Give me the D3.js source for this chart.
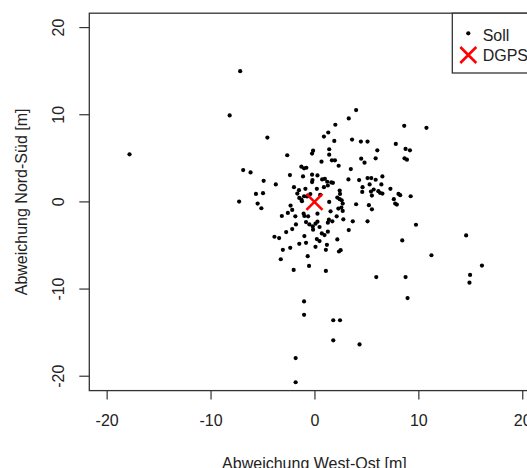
<!DOCTYPE html>
<html>
<head>
<meta charset="utf-8">
<script src="https://cdn.jsdelivr.net/npm/d3@7"></script>
<style>
  html, body { margin: 0; padding: 0; background: #fff; overflow: hidden; }
  text { font-family: "Liberation Sans", Arial, sans-serif; fill: #222; }
</style>
</head>
<body>
<div id="graph"></div>
<script>
// abweichungen der soll-punkte (west-ost, nord-sued) in metern
const SOLL_X = [-17.8, -7.15, -8.16, -4.53, 4.01, 3.30, 2.01, 1.33, 0.91, 1.91, 3.62, 4.47, 5.11, 8.64, 10.78,
  7.83, 8.77, 9.19, 6.05, 1.42, -0.13, -0.23, -2.62, 1.42, 5.89, 4.5, 4.82, 8.67, 8.9, 0.68,
  1.68, 1.97, 2.33, 3.5, -1.26, -1.0, -0.78, -6.86, -6.15, -4.89, -3.72, -2.36, -1.1, -0.23, 0.29,
  -0.19, -0.23, 0.74, 1.0, 1.23, 1.62, 3.27, 4.3, 5.11, 5.47, 5.89, 6.54, 4.63, 5.31, 6.44,
  5.7, 7.31, 4.6, 5.44, 6.15, 6.54, 6.31, 5.53, 8.09, 8.25, 9.26, 7.64, 7.77, 7.93, -1.97,
  -1.49, -0.87, 0.23, 0.91, 1.29, 1.78, 2.43, 2.46, 2.43, 2.62, 2.72, 2.59, 2.72, 2.3, 4.01,
  5.24, 5.53, -5.63, -4.95, -7.25, -5.47, -5.11, -1.65, -1.46, -1.26, -1.0, -0.71, -1.2, 1.42, -2.3,
  -2.14, -2.56, -3.14, -1.84, -1.04, -0.97, -0.61, 0.29, 1.55, 2.14, 1.39, 1.72, 1.29, 2.78, 3.69,
  5.11, -1.78, -2.14, -2.72, -0.81, -0.49, -0.16, 0.1, 0.29, 0.49, -0.13, 0.71, 0.97, 1.29, 3.3,
  9.77, -3.85, -3.4, -1.46, -0.97, -0.81, 0.23, 0.49, 2.2, 1.2, -2.33, -3.04, 0.1, 1.1, 2.36,
  2.52, -3.24, -0.65, -2.0, -0.52, 1.1, 8.45, 11.26, 14.6, 16.12, 14.98, 14.92, 5.95, 8.77, 8.96,
  -1.0, -1.0, 1.81, 2.46, 1.81, 4.34, -1.81, -1.81, 0.55, 2.2, -0.4];
const SOLL_Y = [5.46, 15.0, 9.92, 7.38, 10.54, 9.58, 8.85, 7.96, 7.5, 7.0, 7.15, 6.92, 6.92, 8.73, 8.5,
  6.65, 6.08, 5.92, 5.92, 6.04, 5.88, 5.54, 5.35, 5.42, 5.0, 4.96, 4.5, 5.0, 4.85, 4.62,
  4.77, 4.77, 4.15, 3.77, 4.04, 3.85, 3.92, 3.65, 3.38, 2.42, 2.0, 3.08, 2.92, 3.12, 3.04,
  2.5, 2.27, 2.58, 2.65, 2.31, 2.23, 2.58, 2.5, 2.73, 2.73, 2.54, 2.92, 1.69, 2.0, 2.0,
  1.42, 1.5, 1.15, 1.19, 1.23, 0.96, 1.04, 0.73, 0.92, 0.77, 0.65, 0.31, -0.19, -0.31, 1.69,
  1.35, 1.5, 1.5, 1.69, 1.88, 2.19, 1.31, 0.92, 0.31, 0.19, -0.19, -0.65, -1.04, -0.77, -0.27,
  -0.38, -0.85, 0.92, 1.0, 0.04, -0.19, -0.73, 0.96, 0.46, 0.27, 0.65, 0.62, 0.08, 0.0, -0.42,
  -0.92, -1.27, -1.62, -1.65, -1.35, -1.62, -1.65, -1.35, -1.08, -1.65, -2.04, -2.23, -2.38, -2.0, -2.23,
  -2.23, -2.58, -3.12, -3.46, -2.31, -2.58, -2.81, -2.5, -2.27, -2.88, -3.19, -3.62, -3.81, -3.42, -3.23,
  -2.62, -4.0, -4.15, -4.81, -3.92, -4.69, -4.27, -4.5, -4.31, -4.92, -5.27, -5.5, -5.15, -5.5, -5.69,
  -5.54, -6.58, -6.23, -7.81, -7.35, -7.92, -4.42, -6.12, -3.85, -7.31, -8.38, -9.27, -8.62, -8.62, -11.04,
  -11.42, -12.96, -13.58, -13.58, -15.88, -16.35, -17.92, -20.69, 0.8, 0.5, 0.9];
const DGPS_X = [0];
const DGPS_Y = [0];
const TICKS = [-20, -10, 0, 10, 20];
const LEGEND_LABELS = ["Soll", "DGPS"];

const W = 560, H = 468;
const box = { left: 89.3, top: 13.2, right: 539.6, bottom: 390.6 };

const svg = d3.select("#graph").append("svg")
  .attr("width", W)
  .attr("height", H);

const x = d3.scaleLinear().domain([-21.67, 21.67]).range([box.left, box.right]);
const y = d3.scaleLinear().domain([-21.65, 21.65]).range([box.bottom, box.top]);

const fmt = (d) => d < 0 ? "-" + Math.abs(d) : d;

// achsen wie in R: ticks nach aussen, ohne domain-linie
const gx = svg.append("g")
  .attr("transform", `translate(0,${box.bottom})`)
  .call(d3.axisBottom(x).tickValues(TICKS).tickSize(9).tickPadding(14.9).tickFormat(fmt));
gx.select(".domain").remove();
gx.selectAll("line").attr("stroke", "#333").attr("stroke-width", 1.2);
gx.selectAll("text").attr("font-size", 16).attr("fill", "#222")
  .attr("font-family", "Liberation Sans, Arial, sans-serif");

const gy = svg.append("g")
  .attr("transform", `translate(${box.left},0)`)
  .call(d3.axisLeft(y).tickValues(TICKS).tickSize(10).tickFormat(fmt));
gy.select(".domain").remove();
gy.selectAll("line").attr("stroke", "#333").attr("stroke-width", 1.2);
gy.selectAll(".tick").attr("transform", null);
gy.selectAll(".tick line").attr("transform", (d) => `translate(0,${y(d)})`);
gy.selectAll("text")
  .attr("font-size", 16).attr("fill", "#222")
  .attr("font-family", "Liberation Sans, Arial, sans-serif")
  .attr("text-anchor", "middle")
  .attr("dy", null)
  .attr("x", null)
  .attr("y", 0)
  .attr("transform", (d) => `translate(-25.8,${y(d)}) rotate(-90)`);

// rahmen
svg.append("rect")
  .attr("x", box.left).attr("y", box.top)
  .attr("width", box.right - box.left).attr("height", box.bottom - box.top)
  .attr("fill", "none").attr("stroke", "#333").attr("stroke-width", 1.3);

// soll-punkte
const pts = SOLL_X.map((d, i) => ({ x: d, y: SOLL_Y[i] }));
svg.append("g").selectAll("circle")
  .data(pts)
  .enter()
  .append("circle")
  .attr("cx", (d) => x(d.x))
  .attr("cy", (d) => y(d.y))
  .attr("r", 2.1)
  .attr("fill", "#000");

// dgps-kreuz
const cross = (g, cx, cy, s) => {
  g.append("path")
    .attr("d", `M${cx - s},${cy - s}L${cx + s},${cy + s}M${cx - s},${cy + s}L${cx + s},${cy - s}`)
    .attr("stroke", "#ff0000").attr("stroke-width", 2.6).attr("fill", "none");
};
DGPS_X.forEach((d, i) => cross(svg, x(d), y(DGPS_Y[i]), 8));

// achsentitel
svg.append("text")
  .attr("x", (box.left + box.right) / 2).attr("y", 468.5)
  .attr("text-anchor", "middle").attr("font-size", 16)
  .text("Abweichung West-Ost [m]");
svg.append("text")
  .attr("transform", `translate(27,${(box.top + box.bottom) / 2}) rotate(-90)`)
  .attr("text-anchor", "middle").attr("font-size", 16)
  .text("Abweichung Nord-S\u00fcd [m]");

// legende
const lg = svg.append("g");
lg.append("rect")
  .attr("x", 452.3).attr("y", box.top)
  .attr("width", 120).attr("height", 73 - box.top)
  .attr("fill", "#fff").attr("stroke", "#333").attr("stroke-width", 1.3);
lg.append("circle").attr("cx", 468.3).attr("cy", 33.3).attr("r", 2.1).attr("fill", "#000");
cross(lg, 468.3, 55, 8);
lg.selectAll(".lab")
  .data(LEGEND_LABELS)
  .enter()
  .append("text")
  .attr("class", "lab")
  .attr("x", 482.7)
  .attr("y", (d, i) => 40.7 + i * 20)
  .attr("font-size", 16)
  .text((d) => d);
</script>
</body>
</html>
